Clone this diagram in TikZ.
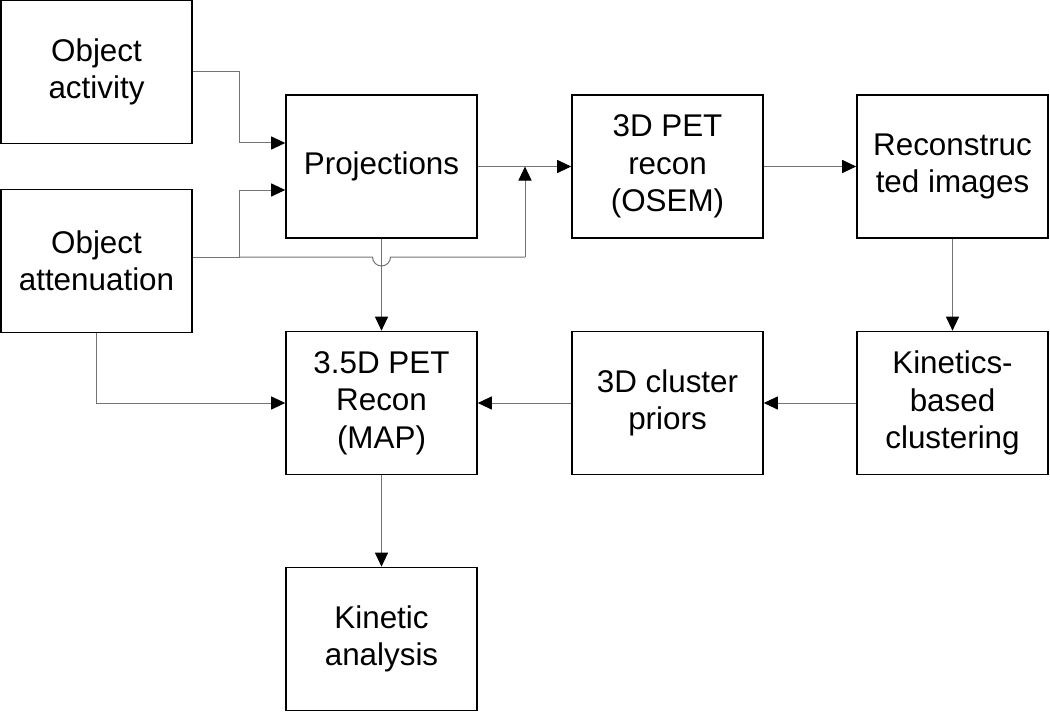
\documentclass[tikz,border=0pt]{standalone}
\usepackage{fontspec}
\setmainfont{Liberation Sans}
\usetikzlibrary{arrows.meta}

\tikzset{
    block/.style={draw=black, line width=1.6bp, fill=white, minimum width=191bp,
        minimum height=143bp, align=center, inner sep=0pt,
        font=\fontsize{31.5}{37.5}\selectfont},
    link/.style={draw=black!55, line width=1bp,
        -{Triangle[length=14bp, width=13bp, color=black]}},
    wire/.style={draw=black!55, line width=1bp}
}

\begin{document}
\begin{tikzpicture}[x=1bp, y=-1bp]
    \useasboundingbox (0,0) rectangle (1050,712);

    % Inputs
    \node[block] (act) at (96.5, 72) {Object\\activity};
    \node[block] (att) at (96.5, 261) {Object\\attenuation};

    % Top row
    \node[block] (proj)  at (381.5, 166.5) {Projections};
    \node[block] (osem)  at (667.5, 166.5) {3D PET\\recon\\(OSEM)};
    \node[block] (recon) at (952.5, 166.5) {Reconstruc\\ted images};

    % Middle row
    \node[block] (map)    at (381.5, 403) {3.5D PET\\Recon\\(MAP)};
    \node[block] (priors) at (667.5, 403) {3D cluster\\priors};
    \node[block] (clust)  at (952.5, 403) {Kinetics-\\based\\clustering};

    % Output
    \node[block] (kin) at (381.5, 639) {Kinetic\\analysis};

    % Helper points
    \coordinate (merge) at (525, 166.5);

    % Inputs into projections
    \draw[link] (act.east |- 0,72) -| (239, 143) -- (proj.west |- 0,143);
    \draw[link] (att.east |- 0,257) -| (239, 190) -- (proj.west |- 0,190);

    % Attenuation jumping over the projections line
    \draw[wire] (239, 257) -- (372.5, 257) arc[start angle=180, end angle=0, radius=9] -- (525, 257);
    \draw[link] (525, 257) -- (merge);

    % Main chain
    \draw[link] (proj) -- (osem);
    \draw[link] (osem) -- (recon);
    \draw[link] (recon) -- (clust);
    \draw[link] (clust) -- (priors);
    \draw[link] (priors) -- (map);
    \draw[link] (proj) -- (map);
    \draw[link] (att.south) |- (map.west);
    \draw[link] (map) -- (kin);

\end{tikzpicture}
\end{document}
